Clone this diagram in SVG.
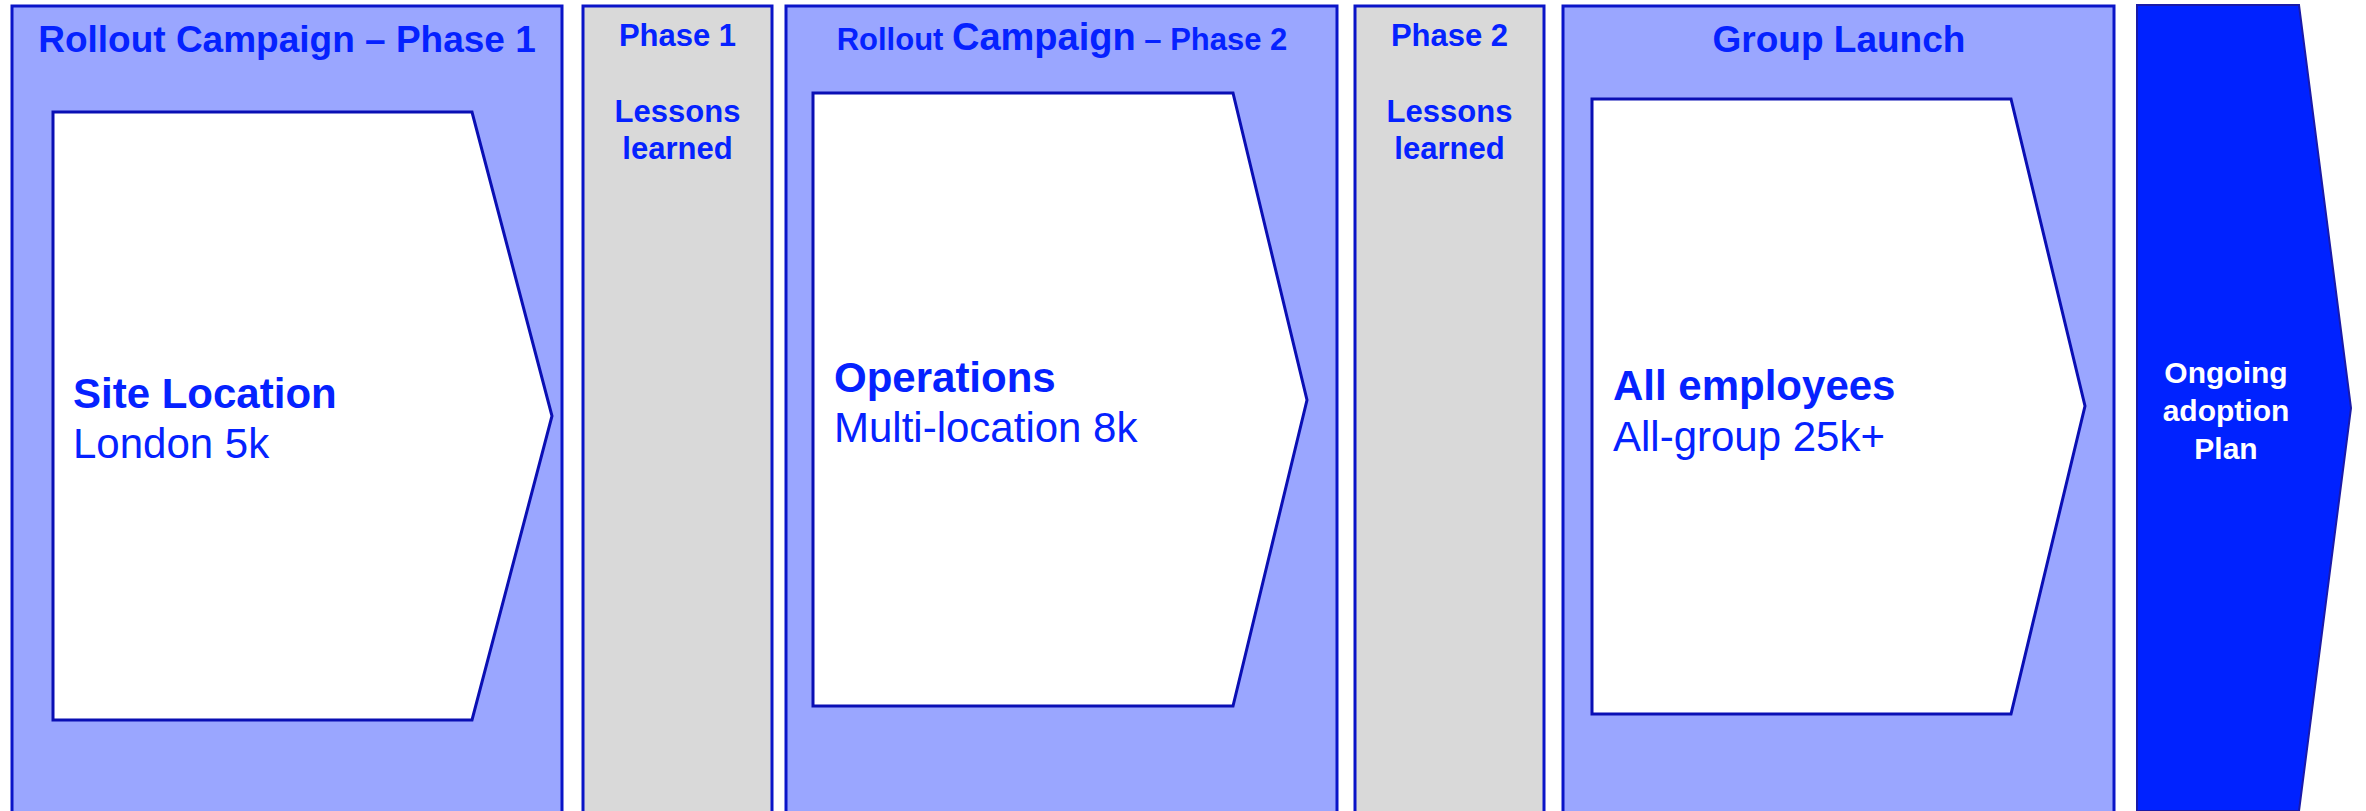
<svg xmlns="http://www.w3.org/2000/svg" width="2366" height="811" viewBox="0 0 2366 811">
<style>
.panel{fill:#9AA6FF;stroke:#0A14C8;stroke-width:3}
.gray{fill:#D9D9D9;stroke:#0A14C8;stroke-width:3}
.arrow{fill:#FFFFFF;stroke:#0A0FB4;stroke-width:3;stroke-linejoin:miter}
.dark{fill:#0022FF;stroke:#1A1AA8;stroke-width:2}
.t{font-family:"Liberation Sans",Arial,sans-serif;fill:#0522FF}
.b{font-weight:bold}
.ttl{font-size:37px;font-weight:bold;text-anchor:middle}
.gt{font-size:31px;font-weight:bold;text-anchor:middle}
.h{font-size:42px;font-weight:bold}
.s{font-size:42px}
.w{font-family:"Liberation Sans",Arial,sans-serif;fill:#FFFFFF;font-size:30px;font-weight:bold;text-anchor:middle}
</style>
<rect width="2366" height="811" fill="#FFFFFF"/>
<g id="phase1">
<rect class="panel" x="12" y="6" width="550" height="830"/>
<text class="t ttl" x="287" y="52">Rollout Campaign – Phase 1</text>
<polygon class="arrow" points="53,112 472,112 552,416 472,720 53,720"/>
<text class="t h" x="73" y="408">Site Location</text>
<text class="t s" x="73" y="458">London 5k</text>
</g>
<g id="lessons1">
<rect class="gray" x="583" y="6" width="189" height="830"/>
<text class="t gt" x="677.5" y="46">Phase 1</text>
<text class="t gt" x="677.5" y="122">Lessons</text>
<text class="t gt" x="677.5" y="159">learned</text>
</g>
<g id="phase2">
<rect class="panel" x="786" y="6" width="551" height="830"/>
<text class="t b" x="1062" y="50" text-anchor="middle"><tspan font-size="31">Rollout </tspan><tspan font-size="38">Campaign</tspan><tspan font-size="31"> – Phase 2</tspan></text>
<polygon class="arrow" points="813,93 1233,93 1307,400 1233,706 813,706"/>
<text class="t h" x="834" y="392">Operations</text>
<text class="t s" x="834" y="442">Multi-location 8k</text>
</g>
<g id="lessons2">
<rect class="gray" x="1355" y="6" width="189" height="830"/>
<text class="t gt" x="1449.5" y="46">Phase 2</text>
<text class="t gt" x="1449.5" y="122">Lessons</text>
<text class="t gt" x="1449.5" y="159">learned</text>
</g>
<g id="group-launch">
<rect class="panel" x="1563" y="6" width="551" height="830"/>
<text class="t ttl" x="1839" y="52">Group Launch</text>
<polygon class="arrow" points="1592,99 2011,99 2085,406 2011,714 1592,714"/>
<text class="t h" x="1613" y="400">All employees</text>
<text class="t s" x="1613" y="451">All-group 25k+</text>
</g>
<g id="ongoing">
<polygon class="dark" points="2137,5 2299,5 2351,408 2299,811 2137,811"/>
<text class="w" x="2226" y="383">Ongoing</text>
<text class="w" x="2226" y="421">adoption</text>
<text class="w" x="2226" y="459">Plan</text>
</g>
<g id="connectors"></g>
</svg>
